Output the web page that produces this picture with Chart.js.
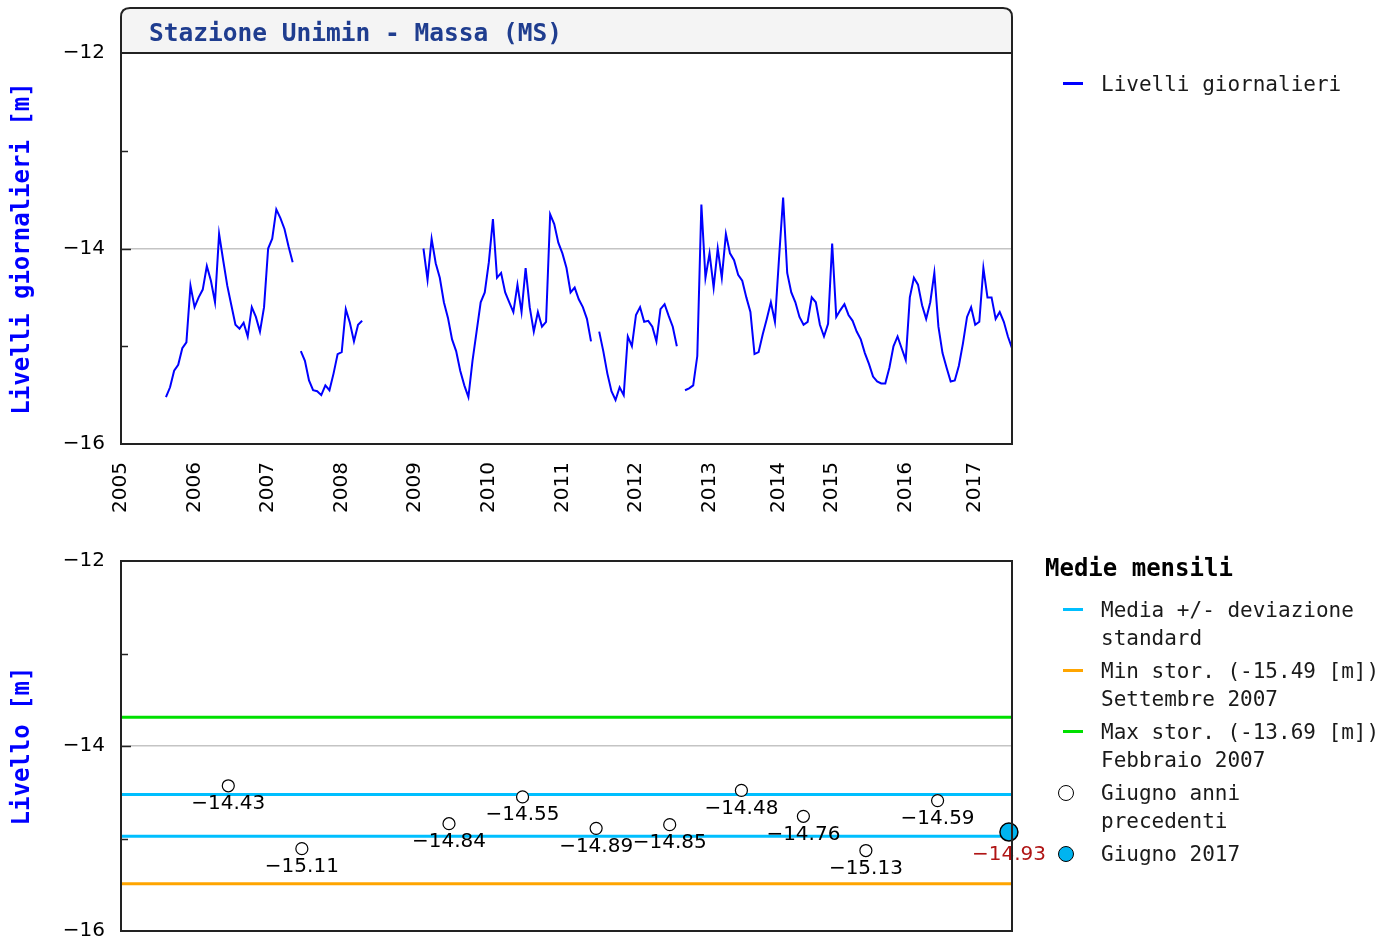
<!DOCTYPE html>
<html>
<head>
<meta charset="utf-8"/>
<title>Stazione Unimin - Massa (MS)</title>
<script src="https://cdn.jsdelivr.net/npm/chart.js@4.4.1/dist/chart.umd.min.js"></script>
<style>
    body { margin: 0; background: #fff; width: 1395px; height: 943px; position: relative; overflow: hidden; }
    canvas { position: absolute; left: 0; }
    #giornalieri { top: 0; }
    #mensili { top: 530px; }
    .legend { position: absolute; left: 1045px; font-family: 'DejaVu Sans Mono', monospace; font-size: 21px; color: #1a1a1a; white-space: nowrap; }
    .legend h4 { margin: 0 0 14px 0; font-size: 24px; line-height: 28px; font-weight: bold; color: #000; }
    .item { position: relative; padding-left: 56px; line-height: 28px; margin-bottom: 5px; }
    .item .line { position: absolute; left: 18px; top: 12px; width: 20px; height: 3px; }
    .item .dot { position: absolute; left: 13px; top: 6px; width: 16px; height: 16px; border-radius: 50%; border: 1.5px solid #000; box-sizing: border-box; }
</style>
</head>
<body>
<canvas id="giornalieri" width="1395" height="530"></canvas>
<canvas id="mensili" width="1395" height="429"></canvas>
<div class="legend" id="leg1" style="top:70px"></div>
<div class="legend" id="leg2" style="top:554px"></div>

<script>
// livelli giornalieri [m], un campione ogni ~20 giorni, null = nessun dato
var lv2005 = [null, null, null, null, null, null, null, null, null, null, null, -15.52, -15.42, -15.25, -15.19, -15.02, -14.96, -14.38];
var lv2006 = [-14.6, -14.5, -14.42, -14.18, -14.33, -14.55, -13.85, -14.12, -14.38, -14.58, -14.78, -14.82, -14.76, -14.9, -14.6, -14.7, -14.85, -14.6];
var lv2007 = [-14.0, -13.9, -13.6, -13.69, -13.8, -13.98, -14.14, null, -15.05, -15.15, -15.35, -15.45, -15.46, -15.5, -15.4, -15.45, -15.28, -15.08];
var lv2008 = [-15.06, -14.62, -14.76, -14.95, -14.78, -14.74, null, null, null, null, null, null, null, null, null, null, null, null];
var lv2009 = [null, null, -14.0, -14.32, -13.9, -14.15, -14.3, -14.55, -14.71, -14.93, -15.05, -15.25, -15.4, -15.52, -15.15, -14.85, -14.55, -14.45];
var lv2010 = [-14.14, -13.7, -14.3, -14.25, -14.45, -14.55, -14.65, -14.37, -14.65, -14.2, -14.6, -14.85, -14.65, -14.8, -14.75, -13.65, -13.75, -13.94];
var lv2011 = [-14.05, -14.2, -14.45, -14.4, -14.52, -14.6, -14.72, -14.95, null, -14.85, -15.05, -15.28, -15.46, -15.55, -15.42, -15.5, -14.9, -15.0];
var lv2012 = [-14.68, -14.6, -14.75, -14.74, -14.8, -14.95, -14.62, -14.57, -14.69, -14.8, -15.0, null, -15.45, -15.43, -15.4, -15.1, -13.55, -14.3];
var lv2013 = [-14.05, -14.4, -14.0, -14.3, -13.85, -14.05, -14.12, -14.27, -14.33, -14.5, -14.65, -15.08, -15.06, -14.88, -14.72, -14.55, -14.75];
var lv2014 = [-14.1, -13.48, -14.25, -14.45, -14.55, -14.7, -14.78, -14.75, -14.5, -14.55, -14.78, -14.9, -14.77];
var lv2015 = [-13.95, -14.7, -14.63, -14.57, -14.68, -14.74, -14.85, -14.93, -15.07, -15.18, -15.31, -15.36, -15.38, -15.38, -15.22, -15.0, -14.9, -15.02];
var lv2016 = [-15.14, -14.5, -14.3, -14.37, -14.58, -14.72, -14.55, -14.25, -14.8, -15.07, -15.22, -15.36, -15.35, -15.2, -14.97, -14.7, -14.6];
var lv2017 = [-14.78, -14.75, -14.2, -14.5, -14.5, -14.72, -14.65, -14.75, -14.9, -15.02];

var anni = [2005, 2006, 2007, 2008, 2009, 2010, 2011, 2012, 2013, 2014, 2015, 2016, 2017];
var livelliAnno = [lv2005, lv2006, lv2007, lv2008, lv2009, lv2010, lv2011, lv2012, lv2013, lv2014, lv2015, lv2016, lv2017];
var campioniAnno = 18;

// medie mensili di giugno
var giugnoAnni = [2006, 2007, 2009, 2010, 2011, 2012, 2013, 2014, 2015, 2016];
var giugnoValori = [-14.43, -15.11, -14.84, -14.55, -14.89, -14.85, -14.48, -14.76, -15.13, -14.59];
var annoCorrente = 2017;
var giugnoCorrente = -14.93;
var mediaGiugno = -14.75;
var devStdGiugno = 0.225;
var minStor = -15.49, minStorData = 'Settembre 2007';
var maxStor = -13.69, maxStorData = 'Febbraio 2007';

var yTicks = [-16, -15, -14, -13, -12];

// ---- costruzione serie ----
var inizioAnno = [];
var serie = [];
var pos = 0;
livelliAnno.forEach(function (arr) {
    inizioAnno.push(pos);
    arr.forEach(function (v, k) { serie.push({ x: pos + k, y: v }); });
    pos += arr.length;
});
var xMax = pos - 1;

function xGiugno(anno) {
    var i = anni.indexOf(anno);
    var len = (i === anni.length - 1) ? campioniAnno : livelliAnno[i].length;
    return inizioAnno[i] + len * 5.5 / 12;
}
var puntiGiugno = giugnoAnni.map(function (a, i) { return { x: xGiugno(a), y: giugnoValori[i] }; });

function meno(s) { return String(s).replace('-', '\u2212'); }

var fontTick = { family: 'DejaVu Sans', size: 20 };
var fontTitolo = { family: 'DejaVu Sans Mono', size: 24, weight: 'bold' };

function assey(titolo) {
    return {
        min: -16, max: -12,
        afterFit: function (s) { s.width = 121; },
        afterBuildTicks: function (s) { s.ticks = yTicks.map(function (v) { return { value: v }; }); },
        ticks: {
            color: '#000', font: fontTick, padding: 16,
            callback: function (v) { return v % 2 === 0 ? meno(v) : ''; }
        },
        grid: {
            drawTicks: false, lineWidth: 1.5,
            color: function (c) { return c.tick && c.tick.value === -14 ? '#c4c4c4' : 'rgba(0,0,0,0)'; }
        },
        border: { display: false },
        title: { display: true, text: titolo, color: '#0000ff', font: fontTitolo, padding: { top: 8, bottom: 0 } }
    };
}

// cornice + tacche interne sull'asse y
var cornice = {
    id: 'cornice',
    afterDraw: function (chart) {
        var ctx = chart.ctx, a = chart.chartArea, sy = chart.scales.y;
        ctx.save();
        ctx.strokeStyle = '#222';
        ctx.lineWidth = 1.5;
        yTicks.forEach(function (v) {
            if (v === -12 || v === -16) return;
            var y = Math.round(sy.getPixelForValue(v)) + 0.5;
            ctx.beginPath();
            ctx.moveTo(a.left, y);
            ctx.lineTo(a.left + (v % 2 === 0 ? 10 : 7), y);
            ctx.stroke();
        });
        ctx.lineWidth = 2;
        ctx.strokeRect(a.left, a.top, a.right - a.left, a.bottom - a.top);
        ctx.restore();
    }
};

var titoloBox = {
    id: 'titoloBox',
    afterDraw: function (chart) {
        var ctx = chart.ctx, a = chart.chartArea;
        var top = a.top - 45, r = 9;
        ctx.save();
        ctx.beginPath();
        ctx.moveTo(a.left, a.top);
        ctx.lineTo(a.left, top + r);
        ctx.quadraticCurveTo(a.left, top, a.left + r, top);
        ctx.lineTo(a.right - r, top);
        ctx.quadraticCurveTo(a.right, top, a.right, top + r);
        ctx.lineTo(a.right, a.top);
        ctx.closePath();
        ctx.fillStyle = '#f4f4f4';
        ctx.fill();
        ctx.strokeStyle = '#222';
        ctx.lineWidth = 2;
        ctx.stroke();
        ctx.fillStyle = '#1f3d8f';
        ctx.font = 'bold 24.5px "DejaVu Sans Mono"';
        ctx.textBaseline = 'middle';
        ctx.fillText('Stazione Unimin - Massa (MS)', a.left + 28, top + 27);
        ctx.restore();
    }
};

// ---- grafico livelli giornalieri ----
new Chart(document.getElementById('giornalieri'), {
    type: 'line',
    data: {
        datasets: [{
            label: 'Livelli giornalieri',
            data: serie,
            borderColor: '#0000ff',
            borderWidth: 2,
            pointRadius: 0,
            spanGaps: false,
            tension: 0
        }]
    },
    options: {
        responsive: false, animation: false, devicePixelRatio: 1,
        layout: { padding: { left: 0, top: 53, right: 383, bottom: 0 } },
        plugins: { legend: { display: false }, tooltip: { enabled: false } },
        scales: {
            x: {
                type: 'linear', min: 0, max: xMax,
                afterFit: function (s) { s.height = 86; },
                afterBuildTicks: function (s) { s.ticks = inizioAnno.map(function (v) { return { value: v }; }); },
                ticks: {
                    autoSkip: false, minRotation: 90, maxRotation: 90, padding: 18,
                    color: '#000', font: fontTick,
                    callback: function (v, i) { return String(anni[i]); }
                },
                grid: { display: false, drawTicks: false },
                border: { display: false }
            },
            y: assey('Livelli giornalieri [m]')
        }
    },
    plugins: [cornice, titoloBox]
});

// ---- grafico medie mensili ----
var etichette = {
    id: 'etichette',
    afterDatasetsDraw: function (chart) {
        var ctx = chart.ctx;
        ctx.save();
        ctx.font = '20px "DejaVu Sans"';
        ctx.textAlign = 'center';
        ctx.textBaseline = 'middle';
        chart.data.datasets.forEach(function (ds, di) {
            if (!ds.etichetta) return;
            chart.getDatasetMeta(di).data.forEach(function (p, j) {
                ctx.fillStyle = ds.etichetta.colore;
                ctx.fillText(meno(ds.data[j].y.toFixed(2)), p.x, p.y + ds.etichetta.dy);
            });
        });
        ctx.restore();
    }
};

function lineaOrizz(v, colore) {
    return {
        type: 'line', data: [{ x: 0, y: v }, { x: xMax, y: v }],
        borderColor: colore, borderWidth: 3, pointRadius: 0, order: 2
    };
}

new Chart(document.getElementById('mensili'), {
    type: 'scatter',
    data: {
        datasets: [
            lineaOrizz(mediaGiugno + devStdGiugno, '#00bfff'),
            lineaOrizz(mediaGiugno - devStdGiugno, '#00bfff'),
            lineaOrizz(minStor, '#ffa500'),
            lineaOrizz(maxStor, '#00e000'),
            {
                data: puntiGiugno, order: 1,
                pointRadius: 6, pointBackgroundColor: '#fff', pointBorderColor: '#000', pointBorderWidth: 1.2,
                etichetta: { colore: '#000', dy: 18 }
            },
            {
                data: [{ x: xGiugno(annoCorrente), y: giugnoCorrente }], order: 0, clip: false,
                pointRadius: 9, pointBackgroundColor: '#00b4f0', pointBorderColor: '#000', pointBorderWidth: 1.5,
                etichetta: { colore: '#b01515', dy: 23 }
            }
        ]
    },
    options: {
        responsive: false, animation: false, devicePixelRatio: 1,
        layout: { padding: { left: 0, top: 31, right: 383, bottom: 0 } },
        plugins: { legend: { display: false }, tooltip: { enabled: false } },
        scales: {
            x: {
                type: 'linear', min: 0, max: xMax,
                afterFit: function (s) { s.height = 13; },
                ticks: { display: false },
                grid: { display: false, drawTicks: false },
                border: { display: false }
            },
            y: assey('Livello [m]')
        }
    },
    plugins: [cornice, etichette]
});

// ---- legende ----
function voce(marker, righe) {
    return '<div class="item">' + marker + righe.join('<br>') + '</div>';
}
function linea(c) { return '<span class="line" style="background:' + c + '"></span>'; }
function punto(c) { return '<span class="dot" style="background:' + c + '"></span>'; }

document.getElementById('leg1').innerHTML = voce(linea('#0000ff'), ['Livelli giornalieri']);
document.getElementById('leg2').innerHTML =
    '<h4>Medie mensili</h4>' +
    voce(linea('#00bfff'), ['Media +/- deviazione', 'standard']) +
    voce(linea('#ffa500'), ['Min stor. (' + minStor.toFixed(2) + ' [m])', minStorData]) +
    voce(linea('#00e000'), ['Max stor. (' + maxStor.toFixed(2) + ' [m])', maxStorData]) +
    voce(punto('#fff'), ['Giugno anni', 'precedenti']) +
    voce(punto('#00b4f0'), ['Giugno ' + annoCorrente]);
</script>
</body>
</html>
